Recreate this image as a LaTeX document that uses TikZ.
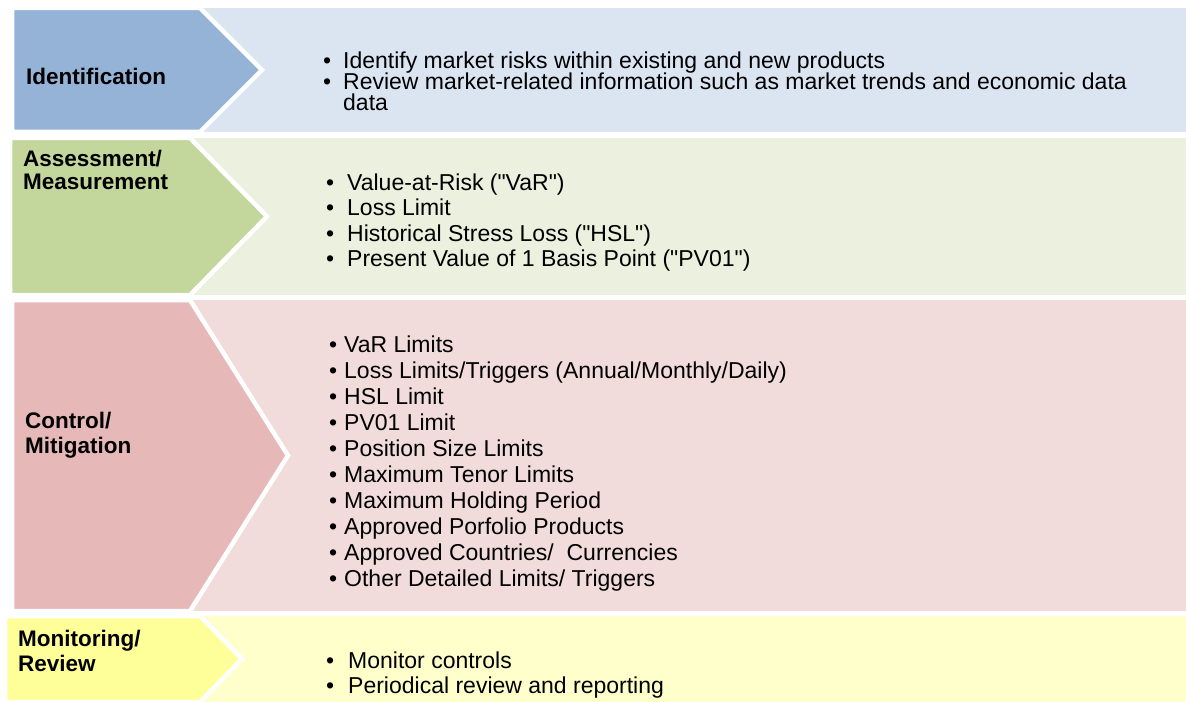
\documentclass[tikz,border=0pt]{standalone}
\usepackage{fontspec}
\setmainfont{Liberation Sans}
\definecolor{StageBlue}{RGB}{149,179,215}
\definecolor{StageBlueLight}{RGB}{219,229,241}
\definecolor{StageGreen}{RGB}{195,214,155}
\definecolor{StageGreenLight}{RGB}{235,241,222}
\definecolor{StageRed}{RGB}{230,185,184}
\definecolor{StageRedLight}{RGB}{242,220,219}
\definecolor{StageYellow}{RGB}{255,255,153}
\definecolor{StageYellowLight}{RGB}{255,255,204}

\begin{document}
\begin{tikzpicture}[x=1bp,y=-1bp,line join=miter]
  \path[use as bounding box] (0,0) rectangle (1186,702);
  \fill[white] (0,0) rectangle (1186,702);

  \tikzset{
    chevron/.style={draw=white,line width=4.5bp},
    stagelabel/.style={anchor=base west,inner sep=0pt,align=left,text=black,
      font=\fontsize{22.5bp}{25bp}\selectfont\bfseries},
    item/.style={anchor=base west,inner sep=0pt,text=black,
      font=\fontsize{23bp}{23bp}\selectfont},
  }

  % ==================== IDENTIFICATION ====================
  \fill[StageBlueLight] (12,8) rectangle (1186,132);
  \path[chevron,fill=StageBlue] (12,8) -- (200,8) -- (262,70) -- (200,132) -- (12,132) -- cycle;
  \node[stagelabel] (ident) at (26,85) {Identification};

  \node[item] (ident-1) at (323,69) {\makebox[20bp][l]{•}Identify market risks within existing and new products};
  \node[item] (ident-2) at (323,90) {\makebox[20bp][l]{•}Review market-related information such as market trends and economic data};
  \node[item] (ident-3) at (343,111) {data};

  % ==================== ASSESSMENT ====================
  \fill[StageGreenLight] (10,138) rectangle (1186,295);
  \path[chevron,fill=StageGreen] (10,138) -- (190,138) -- (267,216.5) -- (190,295) -- (10,295) -- cycle;
  % base of a two-line label = baseline of its last line
  \node[stagelabel] (assess) at (23,190) {Assessment/\\[-2bp]Measurement};

  \foreach \i/\txt in {1/{Value-at-Risk (\textquotedbl VaR\textquotedbl)},2/{Loss Limit},
                       3/{Historical Stress Loss (\textquotedbl HSL\textquotedbl)},
                       4/{Present Value of 1 Basis Point (\textquotedbl PV01\textquotedbl)}} {
    \node[item] (assess-\i) at (326,{191+25*(\i-1)}) {\makebox[21bp][l]{•}\txt};
  }

  % ==================== CONTROL ====================
  \fill[StageRedLight] (12,300) rectangle (1186,611);
  \path[chevron,fill=StageRed] (12,300) -- (190,300) -- (288,455.5) -- (190,611) -- (12,611) -- cycle;
  \node[stagelabel] (control) at (25,453) {Control/\\Mitigation};

  \foreach \i/\txt in {1/{VaR Limits},2/{Loss Limits/Triggers (Annual/Monthly/Daily)},
                       3/{HSL Limit},4/{PV01 Limit},5/{Position Size Limits},
                       6/{Maximum Tenor Limits},7/{Maximum Holding Period},
                       8/{Approved Porfolio Products},9/{Approved Countries/\ \ Currencies},
                       10/{Other Detailed Limits/ Triggers}} {
    \node[item] (control-\i) at (329,{352+26.1*(\i-1)}) {\makebox[15bp][l]{•}\txt};
  }

  % ==================== MONITORING ====================
  \fill[StageYellowLight] (5,616) rectangle (1186,702);
  \path[chevron,fill=StageYellow] (5,616) -- (200,616) -- (242,659) -- (200,702) -- (5,702) -- cycle;
  \node[stagelabel] (monitor) at (18,671) {Monitoring/\\Review};

  \node[item] (monitor-1) at (326,668) {\makebox[22bp][l]{•}Monitor controls};
  \node[item] (monitor-2) at (326,693) {\makebox[22bp][l]{•}Periodical review and reporting};

\end{tikzpicture}
\end{document}
